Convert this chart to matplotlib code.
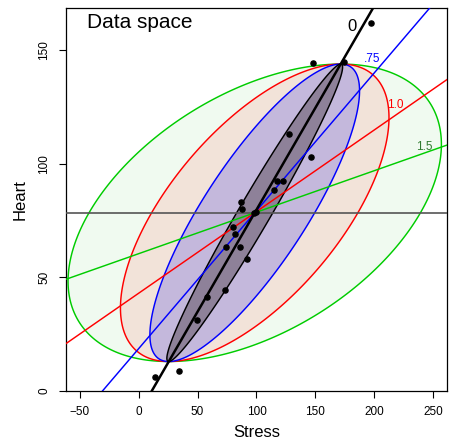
"""Data space view of ridge shrinkage: data ellipses and fitted lines for several lambdas."""

import numpy as np
import matplotlib
matplotlib.use("Agg")
import matplotlib.pyplot as plt
from matplotlib.patches import Polygon

plt.rcParams["font.family"] = ["Liberation Sans", "DejaVu Sans"]

# -- Data --
stress = [13.6, 33.9, 49.7, 58.0, 72.9, 91.8, 73.7, 86.2, 81.9, 80.0,
          87.0, 87.3, 97.5, 99.5, 114.7, 117.3, 122.9, 128.0, 146.1,
          147.8, 174.6, 196.9]
heart = [5.9, 8.8, 31.0, 41.2, 44.4, 58.2, 63.2, 63.2, 69.1, 72.1,
         83.1, 80.0, 78.3, 78.6, 88.4, 92.5, 92.5, 113.1, 103.2,
         144.4, 145.1, 162.3]

center = (98.5, 78.4)
y_half = 65.6          # common vertical half-extent of the ellipses
top_dx = 73.0          # x offset of the shared horizontal tangent point

lambdas = ["0", ".75", "1.0", "1.5"]
x_half = [74.6, 89.0, 114.0, 158.5]
slopes = [0.899, 0.608, 0.360, 0.183]
edge_colors = ["black", "#0000FF", "#FF0000", "#00CC00"]
fill_colors = ["#8E8199", "#C4B8DC", "#F2E3D9", "#F0FAF0"]
label_colors = ["black", "#0000FF", "#FF0000", "#2E7A2E"]
label_pos = [(180.8, 160.6), (197.8, 146.2), (217.5, 126.0), (242.4, 107.4)]
label_size = [12, 8.5, 8.5, 8.5]

# -- Plot --
fig = plt.figure(figsize=(4.49, 4.42), dpi=100)
ax = fig.add_axes([0.1463, 0.1154, 0.8499, 0.8658])
ax.set_xlim(-62, 262)
ax.set_ylim(-0.2, 168.6)

t = np.linspace(0, 2 * np.pi, 400)
circle = np.vstack([np.cos(t), np.sin(t)])
cxy = top_dx * y_half

# largest ellipse first so the smaller ones sit on top
for i in reversed(range(len(lambdas))):
    cov = np.array([[x_half[i] ** 2, cxy], [cxy, y_half ** 2]])
    L = np.linalg.cholesky(cov)
    pts = (L @ circle).T + np.array(center)
    ax.add_patch(Polygon(pts, closed=True, facecolor=fill_colors[i],
                         edgecolor=edge_colors[i], linewidth=1.05, zorder=2 + (3 - i) * 0.1))

ax.axhline(center[1], color="#555555", linewidth=1.2, zorder=3)

for i in reversed(range(len(lambdas))):
    lw = 1.8 if i == 0 else 1.05
    ax.axline(center, slope=slopes[i], color=edge_colors[i], linewidth=lw, zorder=4)
    ax.text(*label_pos[i], lambdas[i], color=label_colors[i], fontsize=label_size[i],
            ha="center", va="center", zorder=6)

ax.plot(stress, heart, "o", color="black", markersize=3.7, zorder=5)

ax.text(-43.7, 162.4, "Data space", fontsize=15, ha="left", va="center")

ax.set_xticks([-50, 0, 50, 100, 150, 200, 250])
ax.set_yticks([0, 50, 100, 150])
ax.tick_params(axis="both", direction="out", length=5, width=0.8, labelsize=8.5)
ax.tick_params(axis="y", labelrotation=90, pad=6)
for lab in ax.get_yticklabels():
    lab.set_va("center")
ax.tick_params(axis="x", pad=6)
ax.set_xlabel("Stress", fontsize=12, labelpad=5)
ax.set_ylabel("Heart", fontsize=12, labelpad=8)
for sp in ax.spines.values():
    sp.set_linewidth(0.9)

fig.savefig("out.png", dpi=100)
